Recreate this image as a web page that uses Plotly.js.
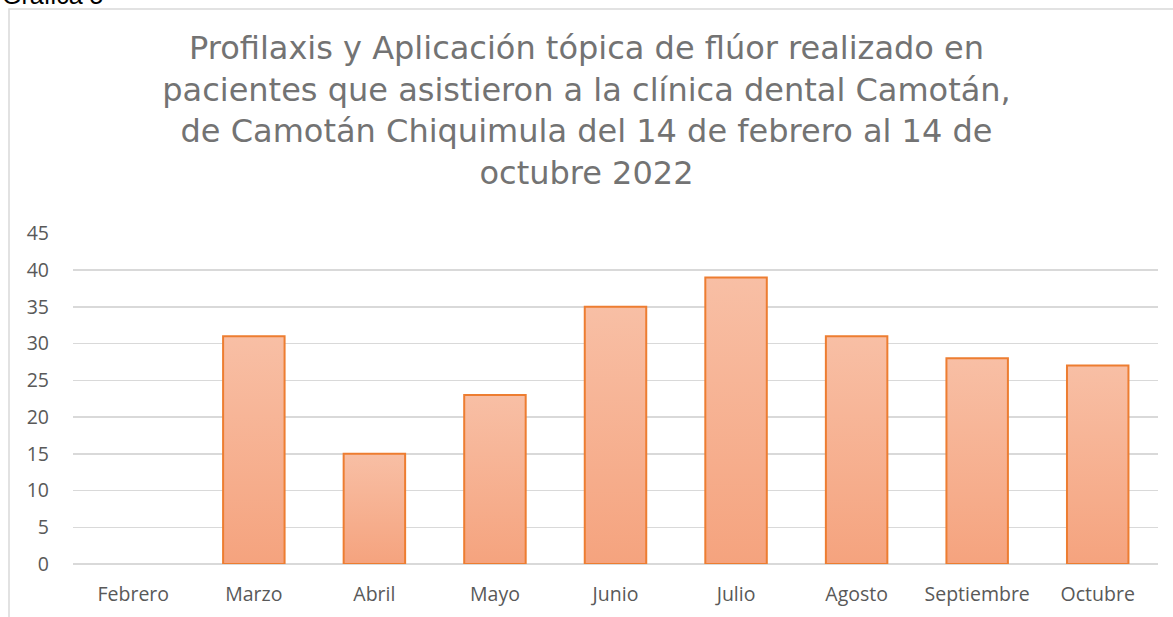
<!DOCTYPE html>
<html>
<head>
<meta charset="utf-8">
<script src="https://cdn.plot.ly/plotly-3.0.1.min.js"></script>
<style>html,body{margin:0;padding:0;background:#fff;}#chart{width:1173px;height:617px;}</style>
</head>
<body>
<div id="chart"></div>
<script>
const months = ["Febrero","Marzo","Abril","Mayo","Junio","Julio","Agosto","Septiembre","Octubre"];
const pacientes = [0,31,15,23,35,39,31,28,27];
const yTicks = [0,5,10,15,20,25,30,35,40,45];
const chartTitle = "Profilaxis y Aplicación tópica de flúor realizado en<br>pacientes que asistieron a la clínica dental Camotán,<br>de Camotán Chiquimula del 14 de febrero al 14 de<br>octubre 2022";
const caption = "Gráfica 5";

const trace = {
  type: "bar",
  x: months,
  y: pacientes,
  marker: {color: "#F6B08F", line: {color: "#ED7D31", width: pacientes.map(v => v > 0 ? 2 : 0)}},
  hoverinfo: "skip"
};

const layout = {
  width: 1173, height: 617,
  margin: {l: 73, r: 15, t: 233, b: 53},
  paper_bgcolor: "#fff", plot_bgcolor: "#fff",
  bargap: 0.49,
  showlegend: false,
  font: {family: "'Open Sans', sans-serif", color: "#595959", size: 19.5},
  title: {
    text: chartTitle,
    font: {family: "'DejaVu Sans', sans-serif", size: 32, color: "#737373"},
    x: 0.5, xanchor: "center", xref: "container",
    y: 1 - 59/617, yanchor: "top", yref: "container"
  },
  xaxis: {
    type: "category",
    showgrid: false, zeroline: false, showline: false,
    ticks: "", tickfont: {size: 19.5, color: "#595959"},
    ticklabelstandoff: 16
  },
  yaxis: {
    range: [0, 45.05], tickvals: yTicks, ticktext: yTicks.map(String),
    showgrid: true, gridcolor: "#D9D9D9", gridwidth: 1.5,
    zeroline: true, zerolinecolor: "#D9D9D9", zerolinewidth: 2,
    showline: false, ticks: "",
    tickfont: {size: 19.5, color: "#595959"},
    ticklabelstandoff: 23
  },
  shapes: [{
    type: "rect", xref: "paper", yref: "paper", layer: "below",
    x0: (9-73)/1085, x1: 1.2, y0: -0.4, y1: (564-9)/331,
    line: {color: "#D9D9D9", width: 1.5}, fillcolor: "rgba(0,0,0,0)"
  }],
  annotations: [{
    text: caption, showarrow: false, xref: "paper", yref: "paper",
    x: -73/1085, xanchor: "left", y: (564-11)/331, yanchor: "bottom",
    font: {family: "'Liberation Sans', Arial, sans-serif", size: 25, color: "#000"}
  }]
};

function applyGradient(gd) {
  const svg = gd.querySelector("svg.main-svg");
  if (!svg) return;
  let defs = svg.querySelector("defs");
  if (!defs) { defs = document.createElementNS("http://www.w3.org/2000/svg","defs"); svg.insertBefore(defs, svg.firstChild); }
  if (!svg.querySelector("#barGrad")) {
    const g = document.createElementNS("http://www.w3.org/2000/svg","linearGradient");
    g.setAttribute("id","barGrad");
    g.setAttribute("x1","0"); g.setAttribute("x2","0");
    g.setAttribute("y1","0"); g.setAttribute("y2","1");
    [["0","#F8BFA5"],["1","#F5A37E"]].forEach(([o,c])=>{
      const s = document.createElementNS("http://www.w3.org/2000/svg","stop");
      s.setAttribute("offset",o); s.setAttribute("stop-color",c); g.appendChild(s);
    });
    defs.appendChild(g);
  }
  gd.querySelectorAll(".bars .point path").forEach(p => { p.style.fill = "url(#barGrad)"; });
}

Plotly.newPlot("chart", [trace], layout, {displayModeBar: false, staticPlot: true}).then(gd => {
  applyGradient(gd);
  gd.on("plotly_afterplot", () => applyGradient(gd));
});
</script>
</body>
</html>
